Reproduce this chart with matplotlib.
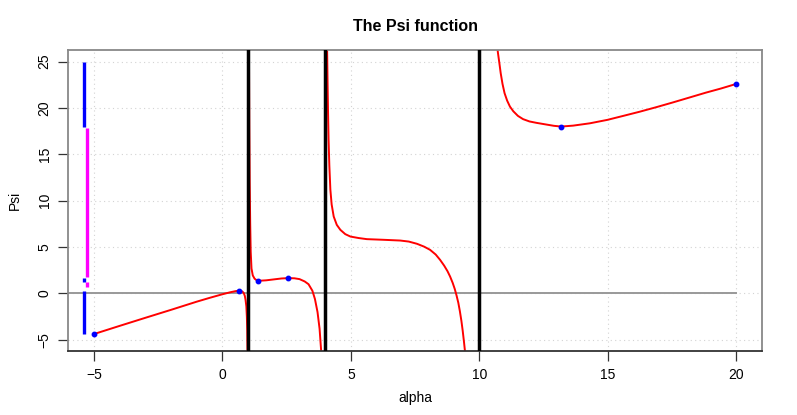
import numpy as np
import matplotlib
matplotlib.use("Agg")
import matplotlib.pyplot as plt

plt.rcParams['font.family'] = ['Liberation Sans', 'DejaVu Sans']

# red curve, one list per branch
b1_x = [-5.0, -4.0, -3.0, -2.0, -1.0, -0.5, 0.0, 0.3, 0.5, 0.64, 0.72, 0.78, 0.83, 0.87, 0.9, 0.93, 0.95, 0.965, 0.975]
b1_y = [-4.37, -3.49, -2.62, -1.76, -0.88, -0.47, -0.08, 0.13, 0.25, 0.30, 0.28, 0.2, 0.04, -0.25, -0.7, -1.4, -2.5, -4.0, -6.5]
b2_x = [1.03, 1.045, 1.06, 1.08, 1.1, 1.13, 1.18, 1.25, 1.32, 1.4, 1.7, 2.0, 2.3, 2.57, 2.8, 3.0, 3.2, 3.35, 3.5, 3.6, 3.7, 3.78, 3.85]
b2_y = [27.0, 18.0, 12.0, 7.5, 4.5, 2.7, 1.95, 1.6, 1.45, 1.37, 1.42, 1.52, 1.62, 1.66, 1.64, 1.55, 1.3, 1.0, 0.3, -0.6, -2.0, -3.8, -6.5]
b3_x = [4.07, 4.09, 4.11, 4.13, 4.16, 4.2, 4.25, 4.33, 4.45, 4.59, 4.78, 4.98, 5.3, 5.62, 6.27, 6.92, 7.25, 7.57, 7.85, 8.08,
        8.3, 8.47, 8.63, 8.76, 8.86, 8.96, 9.04, 9.11, 9.18, 9.24, 9.3, 9.35, 9.4, 9.45]
b3_y = [27.0, 23.0, 19.5, 16.6, 13.8, 11.2, 9.6, 8.3, 7.4, 6.86, 6.4, 6.14, 5.98, 5.86, 5.79, 5.71, 5.6, 5.36, 5.05, 4.71,
        4.2, 3.63, 3.0, 2.4, 1.83, 1.15, 0.5, -0.2, -1.0, -1.9, -2.95, -4.0, -5.2, -6.5]
b4_x = [10.68, 10.72, 10.78, 10.83, 10.9, 10.98, 11.08, 11.19, 11.32, 11.5, 11.7, 11.95, 12.22, 12.6, 12.9, 13.18,
        13.65, 14.3, 14.98, 15.6, 16.24, 16.9, 17.53, 18.2, 18.82, 19.4, 20.0]
b4_y = [27.0, 26.0, 24.8, 23.75, 22.6, 21.6, 20.8, 20.15, 19.65, 19.15, 18.8, 18.55, 18.4, 18.22, 18.08, 18.0,
        18.1, 18.35, 18.72, 19.15, 19.6, 20.1, 20.6, 21.15, 21.66, 22.1, 22.6]

# blue points
pts_x = [-5.0, 0.64, 1.4, 2.57, 13.18, 20.0]
pts_y = [-4.37, 0.30, 1.37, 1.66, 18.0, 22.6]

# asymptotes
poles = [1, 4, 10]

# range bars on the left
blue_x = -5.38
blue_lo = [-4.37, 1.29, 17.95]
blue_hi = [0.32, 1.72, 25.0]
mag_x = -5.27
mag_lo = [0.75, 1.83]
mag_hi = [1.19, 17.8]

xticks = [-5, 0, 5, 10, 15, 20]
yticks = [-5, 0, 5, 10, 15, 20, 25]

fig = plt.figure(figsize=(7.97, 4.15), dpi=100)
ax = fig.add_axes([68.3 / 797, 1 - 351 / 415, (762 - 68.3) / 797, (351 - 50.5) / 415])

for v in xticks:
    ax.axvline(v, color='#d3d3d3', lw=0.8, ls=(0, (1, 3)), zorder=0)
for v in yticks:
    ax.axhline(v, color='#d3d3d3', lw=0.8, ls=(0, (1, 3)), zorder=0)

ax.plot([-6, 20], [0, 0], color='#999999', lw=1.4, zorder=1)

for xs, ys in [(b1_x, b1_y), (b2_x, b2_y), (b3_x, b3_y), (b4_x, b4_y)]:
    ax.plot(xs, ys, color='#ff0000', lw=1.4, zorder=2)

for p in poles:
    ax.axvline(p, color='black', lw=2.5, zorder=3)

for lo, hi in zip(blue_lo, blue_hi):
    ax.plot([blue_x, blue_x], [lo, hi], color='#0000ff', lw=2.4, solid_capstyle='butt', zorder=3)
for lo, hi in zip(mag_lo, mag_hi):
    ax.plot([mag_x, mag_x], [lo, hi], color='#ff00ff', lw=2.4, solid_capstyle='butt', zorder=3)

ax.plot(pts_x, pts_y, 'o', color='#0000ff', ms=3.2, zorder=4)

ax.set_xlim(-6, 21)
ax.set_ylim(-6.2, 26.2)
ax.set_xticks(xticks)
ax.set_yticks(yticks)
ax.set_xticklabels(['\u22125', '0', '5', '10', '15', '20'])
ax.set_yticklabels(['\u22125', '0', '5', '10', '15', '20', '25'], rotation=90, va='center')
ax.tick_params(length=7, width=0.9, color='#333333', labelsize=10, pad=5)

for s in ax.spines.values():
    s.set_color('#888888')
    s.set_linewidth(1.3)
ax.spines['bottom'].set_color('#333333')

ax.set_title('The Psi function', fontsize=11.5, fontweight='bold', pad=14)
ax.set_xlabel('alpha', fontsize=10, labelpad=7)
ax.set_ylabel('Psi', fontsize=10, labelpad=11)

fig.savefig('out.png', dpi=100)
